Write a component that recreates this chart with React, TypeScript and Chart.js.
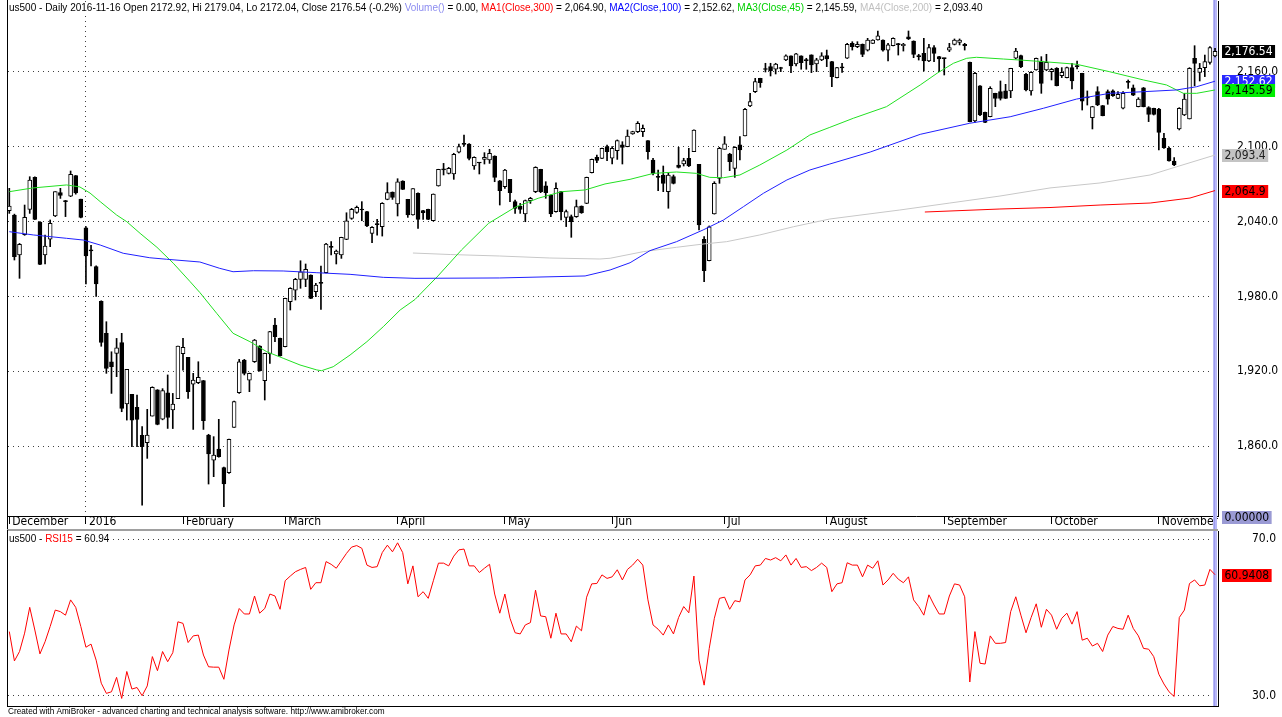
import React, { useEffect, useRef } from "react";
import { Chart, registerables } from "chart.js";

Chart.register(...registerables);

// ---------------- data (us500 daily, 2015-12-10 .. 2016-11-16) ----------------
const opens = [
  2048.8, 2045.3, 2013.2, 2029.5, 2049.8, 2075.5, 2039.7, 2013.2, 2026, 2044.5,
  2063.2, 2056.5, 2060.5, 2077, 2058, 2035, 2017, 2004, 1976, 1950.4,
  1927.6, 1934.3, 1942.9, 1893.7, 1901.4, 1891, 1868.5, 1862.6, 1884, 1905,
  1881.6, 1902.7, 1888.9, 1898, 1934, 1931.1, 1909.7, 1910.8, 1912.4, 1868.8,
  1848.7, 1857.6, 1842.6, 1838.6, 1875, 1902.7, 1929, 1912.9, 1927.6, 1940.2,
  1912.4, 1933.8, 1957, 1946.3, 1939.7, 1975.8, 1985.1, 1993.7, 1993.7, 1997.1,
  1983.8, 1991, 1999, 2019.5, 2014, 2013.2, 2025.8, 2042.6, 2047.4, 2049.5,
  2048, 2030.6, 2038.5, 2035.9, 2057.8, 2063.7, 2054.1, 2072.6, 2057.8, 2045.3,
  2062.7, 2048.8, 2049.8, 2040.7, 2068.6, 2082, 2078.7, 2078.2, 2095.6, 2102.5,
  2102.2, 2084.6, 2087.5, 2089.9, 2089.4, 2092.6, 2072.8, 2068, 2073.9, 2056,
  2052.5, 2046.1, 2056.8, 2064, 2081.9, 2068.6, 2061.3, 2048, 2064, 2043.4,
  2044, 2044, 2052.5, 2054.6, 2079.3, 2091.5, 2090.7, 2100.1, 2090.8, 2096.9,
  2101.5, 2100.1, 2110.3, 2112.2, 2112.2, 2104.9, 2089.4, 2076, 2077.4, 2064,
  2076.1, 2085.4, 2086.2, 2090.8, 2096.1, 2085.9, 2025.8, 2008.7, 2046.1, 2074.7,
  2098, 2094.2, 2082.7, 2101.5, 2108.7, 2132.8, 2144.3, 2154.9, 2162.5, 2164.3,
  2162.2, 2163, 2169.7, 2172.9, 2166.4, 2172.9, 2169.3, 2173.7, 2166.4, 2169.7,
  2173.1, 2168.3, 2155.5, 2163.5, 2171, 2183, 2180.3, 2182.2, 2177.6, 2183,
  2185.7, 2185.7, 2177.6, 2181.1, 2182.5, 2181.1, 2188.3, 2184.9, 2172.5, 2175,
  2168.8, 2179.5, 2172.3, 2171, 2177.6, 2182.2, 2183.8, 2182.2, 2167.7, 2120.7,
  2149, 2127.6, 2124.2, 2142.9, 2144.2, 2144.8, 2144.8, 2171, 2173.1, 2158.1,
  2144.8, 2161.6, 2168.8, 2161.6, 2160.3, 2162.9, 2157.1, 2155.5, 2163.5, 2164.5,
  2158.9, 2139.5, 2123.4, 2144.2, 2133, 2144.2, 2144.8, 2138.9, 2130.9, 2152,
  2147.4, 2132.2, 2147.4, 2131.4, 2130.9, 2130.3, 2106.8, 2098.8, 2088.6, 2114.3,
  2125.5, 2122.3, 2171, 2159.7, 2163.5, 2167.7, 2172.92,
];

const highs = [
  2066.7, 2046, 2022.5, 2053.3, 2076, 2076, 2040, 2029.2, 2041.3, 2064,
  2066.7, 2057, 2080.6, 2077, 2058, 2036, 2021, 2004.5, 1976.5, 1959.7,
  1935.6, 1946.3, 1950.4, 1921.5, 1901.4, 1900.9, 1875.5, 1889.4, 1907.5, 1905.2,
  1906, 1917, 1902.2, 1940.2, 1946.3, 1931.1, 1918.3, 1927.6, 1912.6, 1869.4,
  1867.5, 1881.4, 1843, 1865.6, 1896, 1929.5, 1929.5, 1918.5, 1945.5, 1940.5,
  1934.5, 1952, 1962.4, 1946.5, 1978.6, 1987, 1994.5, 2008.6, 2006, 1997.3,
  1990.5, 2004.4, 2022.5, 2024, 2017.2, 2027.5, 2047.1, 2050.6, 2052.5, 2056,
  2048.2, 2036, 2041.8, 2055.2, 2071.2, 2063.8, 2074.4, 2072.8, 2057.9, 2066.5,
  2063, 2049, 2050, 2062.2, 2082, 2086.7, 2083.5, 2094.8, 2102.2, 2109.5,
  2102.5, 2092, 2087.5, 2095.3, 2098, 2092.8, 2073, 2081.9, 2074, 2057.3,
  2054.6, 2057.3, 2059.5, 2084, 2082, 2072, 2061.5, 2071.2, 2064.2, 2049.3,
  2045.3, 2057.3, 2052.6, 2075.7, 2090.2, 2093.4, 2099, 2101.4, 2100.1, 2105.5,
  2104.1, 2113.5, 2112.5, 2120.2, 2117.5, 2105, 2090.8, 2081.4, 2084.6, 2078.7,
  2077.4, 2099.6, 2090.8, 2098.8, 2113.7, 2086, 2027.9, 2036.5, 2072, 2099.6,
  2108.2, 2094.8, 2100.1, 2108.2, 2130.9, 2142.9, 2154.9, 2155, 2167, 2167,
  2167, 2163.8, 2173.7, 2173, 2175, 2173, 2171, 2173.8, 2171, 2175.5,
  2177.6, 2168.5, 2163.7, 2166.9, 2183, 2184.3, 2184.3, 2182.5, 2187, 2185.9,
  2192.9, 2185.8, 2183, 2187.5, 2183, 2183, 2192.9, 2185, 2174.2, 2187,
  2182.2, 2181.1, 2172.5, 2171.2, 2183, 2186.5, 2186.5, 2183, 2168, 2159.7,
  2149.2, 2127.8, 2148.2, 2143, 2152.8, 2150.1, 2163, 2179, 2173.5, 2159,
  2160.3, 2171.2, 2172.3, 2174.2, 2163, 2163.5, 2163.5, 2164, 2166.9, 2168.8,
  2159, 2144.8, 2132.5, 2148.2, 2133.2, 2145.6, 2145.6, 2144.2, 2144.2, 2153.6,
  2149.6, 2139.4, 2147.6, 2132.2, 2131, 2130.9, 2110.8, 2099.8, 2091.3, 2131.4,
  2142.9, 2163.5, 2181.1, 2166.9, 2173.6, 2180.3, 2179.04,
];

const lows = [
  2046.6, 2009.2, 1994.5, 2029, 2046.6, 2041.5, 2005.5, 2006, 2019.9, 2044,
  2058.6, 2044, 2060, 2062, 2043, 1990, 2004.4, 1980, 1940, 1918.3,
  1902.2, 1915.6, 1887.5, 1880.8, 1859.4, 1859.4, 1812.6, 1850.1, 1884, 1877,
  1881, 1874.1, 1874, 1898, 1920.9, 1898.2, 1873.3, 1910, 1873.3, 1829.5,
  1835.4, 1851, 1811.3, 1838, 1875, 1902.2, 1917, 1903.6, 1927, 1920,
  1896.9, 1926.3, 1943.7, 1932, 1939.5, 1969.1, 1977.1, 1986.5, 1987.8, 1978.2,
  1979.8, 1969.6, 1998.8, 2013.2, 2006, 2010.5, 2025.5, 2041.8, 2046.6, 2040.7,
  2036, 2023.1, 2029.2, 2028.4, 2057.5, 2057.8, 2044.5, 2065.7, 2043.4, 2045.1,
  2034.6, 2041.8, 2041.6, 2040.5, 2068.4, 2077.4, 2078.2, 2073.9, 2095, 2100.6,
  2089.4, 2081.9, 2078.2, 2086.2, 2086.7, 2072, 2053.3, 2066.7, 2056, 2046.6,
  2046.6, 2039.9, 2054.6, 2063.2, 2063.2, 2058.7, 2044, 2047.5, 2041.3, 2036,
  2027.4, 2043.4, 2046.6, 2054.4, 2079, 2087.3, 2090.5, 2088.9, 2086.2, 2089.9,
  2086.2, 2100, 2110, 2111.4, 2108.2, 2090, 2077.4, 2064.8, 2064, 2050.7,
  2070.2, 2083, 2084.6, 2084.1, 2096, 2033.3, 1991.8, 2008.5, 2046, 2070.7,
  2098, 2080.9, 2075.5, 2089.4, 2108.7, 2132.2, 2143.5, 2147.7, 2160, 2156.8,
  2158.4, 2160.3, 2169.1, 2159.5, 2164.8, 2162.2, 2162.2, 2159.5, 2160.3, 2169.1,
  2164.3, 2148.2, 2155.3, 2159.7, 2170.8, 2177.6, 2179.5, 2172.3, 2176.8, 2182.8,
  2185.5, 2176.8, 2168.8, 2181, 2173.6, 2176.8, 2186, 2171.5, 2169.6, 2160.8,
  2168.3, 2168.3, 2160.3, 2157.6, 2176.3, 2181.7, 2181.7, 2177.6, 2120, 2119.6,
  2125, 2119.4, 2124, 2132.2, 2137.5, 2138.7, 2139.4, 2170.5, 2163.5, 2144.8,
  2141.5, 2161.4, 2142.9, 2161, 2153.6, 2148.8, 2155.5, 2155.3, 2146.4, 2162.4,
  2129.5, 2133.5, 2114.3, 2133, 2124.8, 2134.1, 2140.5, 2138.7, 2130.3, 2146.9,
  2141, 2132, 2132, 2120.2, 2125.5, 2097.4, 2098.8, 2088.4, 2084.9, 2113.5,
  2125, 2122.3, 2149, 2152.8, 2156.3, 2166.2, 2172.04,
];

const closes = [
  2052.5, 2011.9, 2021.7, 2043.4, 2073.4, 2041.8, 2005.7, 2020.4, 2038.6, 2064,
  2061, 2056, 2078, 2063, 2043.4, 2012.4, 2016.5, 1990, 1943, 1922.3,
  1923.6, 1938.8, 1890.2, 1921.5, 1880.8, 1881.4, 1859.4, 1868.8, 1907, 1877.3,
  1904.4, 1883, 1893.7, 1940.2, 1939.1, 1903.6, 1912.9, 1915.1, 1880.3, 1853.6,
  1852.8, 1851.4, 1829.5, 1865.4, 1895.6, 1927.6, 1918.3, 1918.3, 1945, 1920.4,
  1934.3, 1951.7, 1947.7, 1932.2, 1978.4, 1986.5, 1993.7, 1999.8, 2001.7, 1978.4,
  1989.1, 1990.5, 2022, 2019.3, 2016.4, 2027.4, 2040.7, 2049.8, 2051.4, 2049.3,
  2036.5, 2035.4, 2037.5, 2054.6, 2063.2, 2059.4, 2072, 2065.9, 2045.3, 2066.4,
  2041.8, 2047.2, 2041.8, 2062.1, 2081.9, 2081.5, 2082.7, 2094, 2100.1, 2102,
  2090.7, 2091.5, 2087, 2091.5, 2094.8, 2075.5, 2064.8, 2081.4, 2063.2, 2050.6,
  2049.8, 2056.8, 2058.7, 2083.5, 2064, 2063.2, 2046.1, 2066.7, 2048, 2048,
  2039.9, 2052, 2047.2, 2075.5, 2089.9, 2089, 2098.8, 2096.1, 2098.8, 2105,
  2099.6, 2108.7, 2112.2, 2118.9, 2114.8, 2096.1, 2078.7, 2075.5, 2070.7, 2077.4,
  2070.7, 2083.5, 2088.9, 2084.6, 2113.5, 2037.3, 2000.7, 2035.9, 2070.7, 2098.8,
  2102.3, 2088.1, 2099.6, 2097.5, 2130.1, 2136.2, 2152.3, 2151.5, 2162, 2161.1,
  2166.4, 2162.8, 2172.9, 2164.8, 2174.5, 2167.5, 2169.1, 2165.6, 2169.7, 2172.9,
  2170.4, 2156.2, 2163.5, 2163.3, 2182.2, 2180.3, 2182.2, 2174.2, 2185.7, 2185.7,
  2189.1, 2177.6, 2181.7, 2187, 2182, 2182.2, 2186.5, 2174.2, 2172.3, 2168.8,
  2179.5, 2175, 2170.4, 2170.7, 2179.5, 2185.7, 2185.7, 2181.1, 2120.2, 2158.9,
  2125.5, 2119.6, 2146.9, 2138.9, 2138.9, 2138.9, 2162.9, 2176.8, 2164.3, 2145.6,
  2159.7, 2171, 2150.9, 2167.7, 2162.1, 2149, 2159.7, 2163.5, 2152.8, 2164.3,
  2136.7, 2139.3, 2132.2, 2133.5, 2125, 2138.3, 2141, 2142.1, 2142.9, 2151.7,
  2141.5, 2138.3, 2132.2, 2126, 2126, 2111.6, 2099.3, 2088.6, 2085.4, 2130.9,
  2138.3, 2162.9, 2166.9, 2162.9, 2168.3, 2179.5, 2176.54,
];

const rsi15 = [
  46.4, 38.9, 41.3, 46.0, 52.6, 46.8, 40.7, 43.8, 47.7, 51.9,
  51.5, 50.6, 54.5, 52.6, 47.7, 42.4, 43.2, 39.1, 33.2, 30.6,
  31.0, 34.7, 29.3, 36.2, 31.7, 32.1, 30.0, 32.5, 40.0, 36.4,
  41.3, 38.7, 41.0, 48.9, 48.5, 43.6, 45.3, 45.5, 40.4, 37.4,
  37.3, 37.3, 34.2, 41.7, 48.1, 52.3, 50.9, 50.9, 55.5, 51.1,
  52.3, 56.0, 55.5, 52.1, 59.4, 60.6, 61.7, 62.3, 62.8, 57.2,
  58.9, 58.9, 64.3, 63.6, 62.6, 64.5, 66.4, 68.0, 68.4, 67.7,
  63.4, 62.8, 63.0, 66.6, 68.5, 66.8, 69.1, 66.6, 58.6, 63.2,
  55.3, 56.6, 54.9, 59.4, 63.9, 63.9, 63.2, 65.7, 67.3, 67.5,
  63.2, 63.2, 61.5, 62.6, 63.6, 56.0, 51.1, 56.0, 49.8, 46.1,
  45.8, 48.1, 48.7, 57.0, 50.4, 50.2, 44.7, 51.1, 45.8, 45.8,
  43.8, 47.8, 46.6, 55.2, 58.6, 58.7, 60.9, 60.0, 60.4, 62.2,
  59.6, 62.3, 63.4, 64.9, 63.4, 54.5, 48.1, 47.0, 45.5, 48.1,
  45.8, 50.0, 52.8, 51.2, 60.6, 39.1, 32.7, 42.1, 49.8, 54.9,
  55.2, 52.1, 54.3, 54.0, 59.6, 60.9, 63.2, 63.4, 65.1, 64.7,
  65.3, 64.5, 66.0, 63.4, 65.1, 62.8, 63.0, 62.0, 62.8, 63.9,
  62.8, 56.6, 58.6, 58.9, 64.0, 63.4, 63.4, 60.4, 63.4, 62.6,
  64.5, 58.3, 59.6, 61.3, 59.8, 58.9, 60.4, 54.5, 52.8, 50.6,
  55.8, 53.2, 50.9, 50.9, 55.5, 58.6, 58.3, 55.3, 33.5, 46.4,
  38.3, 38.1, 45.3, 43.4, 43.4, 43.6, 51.5, 55.3, 50.6, 46.1,
  50.0, 53.5, 47.5, 52.1, 50.6, 47.0, 49.8, 51.1, 48.3, 51.5,
  44.2, 44.7, 42.7, 43.4, 41.3, 45.5, 47.7, 47.2, 47.0, 50.6,
  47.2, 45.3, 42.1, 41.9, 40.0, 35.5, 33.0, 31.0, 29.8, 50.0,
  51.9, 58.7, 59.6, 58.1, 58.3, 62.3, 60.94,
];

// moving averages: [bar index, value]
const ma300 = [
  [179.2, 2047.7], [193.9, 2050.1], [203.7, 2051.3], [213.5, 2053.3], [223.3, 2054.9],
  [231.1, 2058.9], [236, 2064.9],
];
const ma100 = [
  [0, 2031.9], [4.7, 2029.3], [11.2, 2026.6], [14.5, 2025.2], [17.8, 2021.2], [22.3, 2014.6],
  [27.5, 2011], [30.8, 2009.8], [37.3, 2007.6], [41.2, 2002.5], [43.8, 1999.8], [47.8, 2000.6],
  [53.6, 2000.4], [60.2, 1999], [66.7, 1997.7], [73.2, 1995.3], [79.4, 1994.5], [96, 1994.8],
  [112.7, 1996.4], [117.6, 2001.2], [121.5, 2007], [125.4, 2016.7], [130.6, 2023.9],
  [135.8, 2033.3], [139.8, 2041.3], [143.7, 2052], [147.6, 2062.7], [152.2, 2073.4],
  [156.7, 2081.4], [160.6, 2086.2], [168.5, 2095.8], [178.3, 2110], [188, 2118.9],
  [195.9, 2124.1], [202.4, 2130.9], [208.9, 2138.3], [215.4, 2142.9], [222, 2144.2],
  [228.5, 2145.6], [232.4, 2148.2], [236, 2152.62],
];
const ma45 = [
  [0, 2064.0], [4.6, 2067], [11.2, 2069.4], [13.8, 2067.8], [15.8, 2062.9], [17.8, 2056],
  [21, 2045.3], [23, 2039.9], [25.6, 2030.6], [28.9, 2019.4], [32.1, 2006.6], [35.4, 1991.8],
  [37.3, 1983.1], [40.6, 1966.4], [43.8, 1950.4], [47.1, 1943.7], [50.4, 1935.6], [53.6, 1930.4],
  [56.9, 1925], [60.2, 1921], [61.1, 1920.4], [63.4, 1923.6], [66.7, 1933], [70, 1943.7],
  [73.2, 1955.7], [76.5, 1969.1], [79.4, 1977.5], [83.9, 1996.4], [88.5, 2017.2], [93.8, 2038.6],
  [99, 2051.5], [103.5, 2058.7], [108.1, 2064], [112.7, 2065.4], [116.6, 2070.2], [121.5, 2073.9],
  [126.1, 2078.7], [130.6, 2079.8], [134.5, 2078.7], [137.1, 2075.5], [139.8, 2075.2],
  [143, 2077.4], [146.9, 2085.4], [152.2, 2097.4], [156.7, 2109.5], [160.6, 2115.6],
  [165.2, 2122.9], [171.7, 2132.2], [178.3, 2149.6], [181.6, 2159], [184.8, 2167],
  [187.4, 2171], [189.3, 2171.8], [194.6, 2170.4], [197.8, 2169.6], [202.4, 2168.3],
  [208.9, 2166.2], [215.4, 2160.2], [222, 2153.6], [226.5, 2149.6], [229.8, 2142.9],
  [232.4, 2142.9], [236, 2145.59],
];
const ma200 = [
  [79, 2014.8], [86.3, 2013.6], [96, 2012.4], [105.8, 2010.8], [115.6, 2010], [117.6, 2010.6],
  [124.1, 2015.9], [130.6, 2019.4], [135.8, 2022], [140.4, 2023.9], [146.9, 2029.3],
  [153.5, 2035.9], [160.6, 2042.1], [174.3, 2049.3], [184.1, 2054.9], [193.9, 2060.5],
  [203.7, 2067], [213.5, 2071], [223.3, 2077.4], [228.5, 2084], [236, 2093.4],
];

const monthTicks = [0, 15, 34, 54, 76, 97, 118, 140, 160, 183, 204, 225];
const monthLabels = [
  "December", "2016", "February", "March", "April", "May", "Jun", "Jul",
  "August", "September", "October", "November",
];
const priceTicks = [1860, 1920, 1980, 2040, 2100, 2160];
const rsiTicks = [30, 70];

const headerParts = [
  ["us500 - Daily 2016-11-16 Open 2172.92, Hi 2179.04, Lo 2172.04, Close 2176.54 (-0.2%) ", "#000000"],
  ["Volume()", "#8c8cf0"],
  [" = 0.00, ", "#000000"],
  ["MA1(Close,300)", "#ff0000"],
  [" = 2,064.90, ", "#000000"],
  ["MA2(Close,100)", "#0000ff"],
  [" = 2,152.62, ", "#000000"],
  ["MA3(Close,45)", "#00d000"],
  [" = 2,145.59, ", "#000000"],
  ["MA4(Close,200)", "#c0c0c0"],
  [" = 2,093.40", "#000000"],
];
const rsiHeaderParts = [
  ["us500 - ", "#000000"],
  ["RSI15", "#ff0000"],
  [" = 60.94", "#000000"],
];
const footerText =
  "Created with AmiBroker - advanced charting and technical analysis software. http://www.amibroker.com";

// ---------------- layout constants ----------------
const W = 1282;
const MAIN_H = 530;
const RSI_TOP = 530;
const RSI_H = 187;
const X_MIN = -0.254;
const X_MAX = 236.58;
const Y_MIN = 1803.86;
const Y_MAX = 2216.95;
const R_MIN = 27.37;
const R_MAX = 72.12;
const LAST = closes.length - 1;

const FONT_AXIS = "'Liberation Sans Narrow', 'DejaVu Sans Condensed', 'Liberation Sans', sans-serif";
const FONT_TEXT = "'Liberation Sans', Arial, sans-serif";

const fmt = (v: number, d: number) =>
  v.toLocaleString("en-US", { minimumFractionDigits: d, maximumFractionDigits: d });

function drawParts(ctx: any, parts: any[], x: number, y: number, size: number) {
  ctx.save();
  ctx.font = `${size}px ${FONT_TEXT}`;
  ctx.textBaseline = "middle";
  ctx.textAlign = "left";
  const total = parts.reduce((s: number, p: any) => s + ctx.measureText(p[0]).width, 0);
  ctx.fillStyle = "#ffffff";
  ctx.fillRect(x - 1, y - size * 0.6, total + 3, size * 1.2);
  let cx = x;
  for (const [t, c] of parts) {
    ctx.fillStyle = c;
    ctx.fillText(t, cx, y);
    cx += ctx.measureText(t).width;
  }
  ctx.restore();
}

function fitSize(ctx: any, text: string, target: number, base: number, family: string) {
  ctx.save();
  ctx.font = `${base}px ${family}`;
  const w = ctx.measureText(text).width;
  ctx.restore();
  return (base * target) / w;
}

function drawTag(ctx: any, text: string, y: number, bg: string, fg: string) {
  ctx.save();
  ctx.font = `12px ${FONT_AXIS}`;
  const w = ctx.measureText(text).width + 5;
  const yy = Math.round(y);
  ctx.fillStyle = bg;
  ctx.fillRect(1222, yy - 6, w, 13);
  ctx.fillStyle = fg;
  ctx.textBaseline = "middle";
  ctx.textAlign = "left";
  ctx.fillText(text, 1224.5, yy + 1);
  ctx.restore();
}

function drawBand(chart: any, h: number) {
  const ctx = chart.ctx;
  const px = Math.round(chart.scales.x.getPixelForValue(LAST));
  ctx.save();
  ctx.fillStyle = "#b8b8f6";
  ctx.fillRect(px - 2, 0, 4, h);
  ctx.fillStyle = "#9c9cf0";
  ctx.fillRect(px - 1, 0, 1, h);
  ctx.restore();
}

const mainPlugin = {
  id: "mainFrame",
  beforeDatasetsDraw(chart: any) {
    drawBand(chart, MAIN_H);
  },
  afterDraw(chart: any) {
    const ctx = chart.ctx;
    const ys = chart.scales.y;
    const area = chart.chartArea;
    ctx.save();
    ctx.fillStyle = "#000";
    ctx.fillRect(7, 0, 1, MAIN_H);
    ctx.fillStyle = "#a0a0a0";
    ctx.fillRect(7, MAIN_H - 1, area.right - 7, 1);
    ctx.restore();

    const full = headerParts.map((p) => p[0]).join("");
    const size = fitSize(ctx, full, 974, 11, FONT_TEXT);
    drawParts(ctx, headerParts, 9, 8.5, size);

    drawTag(ctx, fmt(closes[LAST], 2), ys.getPixelForValue(closes[LAST]), "#000000", "#ffffff");
    const m100 = ma100[ma100.length - 1][1];
    const m45 = ma45[ma45.length - 1][1];
    const m200 = ma200[ma200.length - 1][1];
    const m300 = ma300[ma300.length - 1][1];
    drawTag(ctx, fmt(m100, 2), ys.getPixelForValue(m100), "#2a2aff", "#ffffff");
    drawTag(ctx, fmt(m45, 2), ys.getPixelForValue(m45), "#00ee00", "#000000");
    drawTag(ctx, fmt(m200, 1), ys.getPixelForValue(m200), "#c4c4c4", "#202020");
    drawTag(ctx, fmt(m300, 1), ys.getPixelForValue(m300), "#ff0000", "#000000");
    drawTag(ctx, "0.00000", area.bottom + 1, "#9a9ad4", "#000000");
  },
};

const rsiPlugin = {
  id: "rsiFrame",
  beforeDatasetsDraw(chart: any) {
    drawBand(chart, chart.chartArea.bottom);
  },
  afterDraw(chart: any) {
    const ctx = chart.ctx;
    const ys = chart.scales.y;
    const area = chart.chartArea;
    ctx.save();
    ctx.fillStyle = "#a0a0a0";
    ctx.fillRect(7, 0, area.right - 7, 1);
    ctx.fillStyle = "#000";
    ctx.fillRect(7, 0, 1, area.bottom + 1);
    ctx.fillRect(7, area.bottom, area.right - 7, 1);
    ctx.restore();

    const full = headerParts.map((p) => p[0]).join("");
    const size = fitSize(ctx, full, 974, 11, FONT_TEXT);
    drawParts(ctx, rsiHeaderParts, 9, 9.5, size);

    const v = rsi15[LAST];
    drawTag(ctx, v.toFixed(4).replace(/0$/, "8"), ys.getPixelForValue(v), "#ff0000", "#000000");

    const fsize = fitSize(ctx, footerText, 377, 9, FONT_TEXT);
    ctx.save();
    ctx.font = `${fsize}px ${FONT_TEXT}`;
    ctx.fillStyle = "#000";
    ctx.textBaseline = "middle";
    ctx.fillText(footerText, 8, 181.5);
    ctx.restore();
  },
};

export default function App() {
  const mainRef = useRef<HTMLCanvasElement | null>(null);
  const rsiRef = useRef<HTMLCanvasElement | null>(null);

  useEffect(() => {
    const idx = closes.map((_, i) => i);
    const body = idx.map((i) => ({ x: i, y: [opens[i], closes[i]] }));
    const wick = idx.map((i) => ({ x: i, y: [lows[i], highs[i]] }));
    const bodyColors = idx.map((i) => (closes[i] >= opens[i] ? "#ffffff" : "#000000"));
    const pts = (a: number[][]) => a.map(([x, y]) => ({ x, y }));
    const lineDs = (a: number[][], color: string) => ({
      type: "line",
      data: pts(a),
      borderColor: color,
      borderWidth: 1,
      pointRadius: 0,
      tension: 0,
      order: 0,
    });

    const main = new Chart(mainRef.current as any, {
      type: "bar",
      data: {
        datasets: [
          lineDs(ma300, "#ff0000"),
          lineDs(ma100, "#2020ff"),
          lineDs(ma45, "#22e022"),
          lineDs(ma200, "#c8c8c8"),
          {
            type: "bar",
            data: body,
            backgroundColor: bodyColors,
            borderColor: "#000000",
            borderWidth: 1,
            borderSkipped: false,
            barThickness: 4,
            minBarLength: 1,
            grouped: false,
            order: 1,
          },
          {
            type: "bar",
            data: wick,
            backgroundColor: "#000000",
            borderWidth: 0,
            barThickness: 1,
            grouped: false,
            order: 2,
          },
        ] as any,
      },
      options: {
        animation: false,
        responsive: false,
        devicePixelRatio: 1,
        layout: { padding: { left: 8, top: 1, right: 0, bottom: 0 } },
        plugins: { legend: { display: false }, tooltip: { enabled: false } },
        scales: {
          x: {
            type: "linear",
            position: "bottom",
            min: X_MIN,
            max: X_MAX,
            offset: false,
            afterBuildTicks: (s: any) => {
              s.ticks = monthTicks.map((v) => ({ value: v }));
            },
            afterFit: (s: any) => {
              s.height = 14;
              s.paddingLeft = 0;
              s.paddingRight = 0;
            },
            ticks: {
              callback: (v: any) => {
                const k = monthTicks.indexOf(v);
                return k >= 0 ? monthLabels[k] : "";
              },
              align: "start",
              labelOffset: 3,
              padding: -9,
              autoSkip: false,
              maxRotation: 0,
              minRotation: 0,
              color: "#000",
              font: { family: FONT_AXIS, size: 12 },
            },
            grid: {
              offset: false,
              drawOnChartArea: true,
              drawTicks: true,
              tickLength: 8,
              lineWidth: 1,
              color: (c: any) => (c.tick && c.tick.value === 15 ? "#404040" : "rgba(0,0,0,0)"),
              tickColor: "#000",
            },
            border: { display: true, color: "#000", width: 1, dash: [1, 4] },
          },
          y: {
            type: "linear",
            position: "right",
            min: Y_MIN,
            max: Y_MAX,
            afterBuildTicks: (s: any) => {
              s.ticks = priceTicks.map((v) => ({ value: v }));
            },
            afterFit: (s: any) => {
              s.width = 64;
              s.paddingTop = 0;
              s.paddingBottom = 0;
            },
            ticks: {
              callback: (v: any) => fmt(Number(v), 1),
              padding: 19,
              crossAlign: "near",
              color: "#000",
              font: { family: FONT_AXIS, size: 12 },
            },
            grid: { drawTicks: false, color: "#404040", lineWidth: 1 },
            border: { display: true, color: "#000", width: 1, dash: [1, 4] },
          },
        },
      } as any,
      plugins: [mainPlugin],
    });

    const rsi = new Chart(rsiRef.current as any, {
      type: "line",
      data: {
        datasets: [
          {
            data: rsi15.map((v, i) => ({ x: i, y: v })),
            borderColor: "#ff0000",
            borderWidth: 1,
            pointRadius: 0,
            tension: 0,
          },
        ],
      },
      options: {
        animation: false,
        responsive: false,
        devicePixelRatio: 1,
        layout: { padding: { left: 8, top: 1, right: 0, bottom: 11 } },
        plugins: { legend: { display: false }, tooltip: { enabled: false } },
        scales: {
          x: { type: "linear", min: X_MIN, max: X_MAX, display: false, offset: false },
          y: {
            type: "linear",
            position: "right",
            min: R_MIN,
            max: R_MAX,
            afterBuildTicks: (s: any) => {
              s.ticks = rsiTicks.map((v) => ({ value: v }));
            },
            afterFit: (s: any) => {
              s.width = 64;
              s.paddingTop = 0;
              s.paddingBottom = 0;
            },
            ticks: {
              callback: (v: any) => Number(v).toFixed(1),
              padding: 34,
              crossAlign: "near",
              color: "#000",
              font: { family: FONT_AXIS, size: 12 },
            },
            grid: { drawTicks: false, color: "#404040", lineWidth: 1 },
            border: { display: true, color: "#000", width: 1, dash: [1, 4] },
          },
        },
      } as any,
      plugins: [rsiPlugin],
    });

    return () => {
      main.destroy();
      rsi.destroy();
    };
  }, []);

  return (
    <div
      style={{
        position: "fixed",
        left: 0,
        top: 0,
        width: W,
        height: 717,
        background: "#ffffff",
        overflow: "hidden",
      }}
    >
      <canvas
        ref={mainRef}
        width={W}
        height={MAIN_H}
        style={{ position: "absolute", left: 0, top: 0, width: W, height: MAIN_H }}
      />
      <canvas
        ref={rsiRef}
        width={W}
        height={RSI_H}
        style={{ position: "absolute", left: 0, top: RSI_TOP, width: W, height: RSI_H }}
      />
    </div>
  );
}
